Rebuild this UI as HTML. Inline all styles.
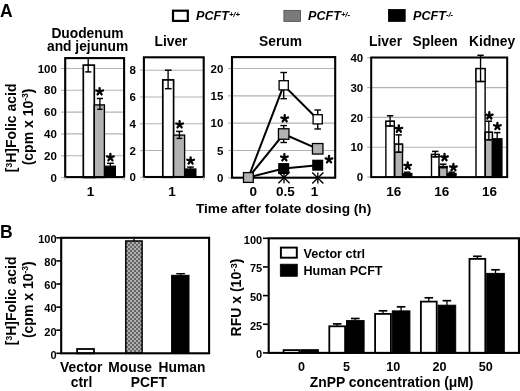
<!DOCTYPE html>
<html><head><meta charset="utf-8"><title>Figure</title>
<style>
html,body{margin:0;padding:0;background:#fff;width:520px;height:391px;overflow:hidden}
svg{display:block;filter:grayscale(1) blur(0.3px)}
text{font-family:"Liberation Sans", sans-serif;font-weight:bold;fill:#000}
</style></head><body>
<svg width="520" height="391" viewBox="0 0 520 391">
<rect width="520" height="391" fill="#fff"/>
<text x="0.00" y="17.00" font-size="17.5" text-anchor="start" >A</text>
<text x="0.00" y="237.90" font-size="17.5" text-anchor="start" >B</text>
<rect x="173.00" y="10.70" width="14.80" height="10.20" fill="#fff" stroke="#000" stroke-width="2.2"/>
<rect x="283.90" y="10.40" width="16.60" height="11.00" fill="#7a7a7a" stroke="#555" stroke-width="0.9"/>
<rect x="388.40" y="9.40" width="16.80" height="12.00" fill="#000" stroke="#000" stroke-width="0.8"/>
<text x="196" y="20.4" font-size="12.6" font-style="italic">PCFT<tspan font-size="7.6" dy="-3.6">+/+</tspan></text>
<text x="308" y="20.4" font-size="12.6" font-style="italic">PCFT<tspan font-size="7.6" dy="-3.6">+/-</tspan></text>
<text x="413" y="20.4" font-size="12.6" font-style="italic">PCFT<tspan font-size="7.6" dy="-3.6">-/-</tspan></text>
<line x1="61.00" y1="177.50" x2="65.00" y2="177.50" stroke="#b3b3b3" stroke-width="1.1"/>
<text x="56.90" y="181.60" font-size="11.5" text-anchor="end" >0</text>
<line x1="61.00" y1="155.70" x2="65.00" y2="155.70" stroke="#b3b3b3" stroke-width="1.1"/>
<line x1="65.00" y1="155.70" x2="124.00" y2="155.70" stroke="#b3b3b3" stroke-width="1.1"/>
<text x="56.90" y="159.80" font-size="11.5" text-anchor="end" >20</text>
<line x1="61.00" y1="133.90" x2="65.00" y2="133.90" stroke="#b3b3b3" stroke-width="1.1"/>
<line x1="65.00" y1="133.90" x2="124.00" y2="133.90" stroke="#b3b3b3" stroke-width="1.1"/>
<text x="56.90" y="138.00" font-size="11.5" text-anchor="end" >40</text>
<line x1="61.00" y1="112.10" x2="65.00" y2="112.10" stroke="#b3b3b3" stroke-width="1.1"/>
<line x1="65.00" y1="112.10" x2="124.00" y2="112.10" stroke="#b3b3b3" stroke-width="1.1"/>
<text x="56.90" y="116.20" font-size="11.5" text-anchor="end" >60</text>
<line x1="61.00" y1="90.30" x2="65.00" y2="90.30" stroke="#b3b3b3" stroke-width="1.1"/>
<line x1="65.00" y1="90.30" x2="124.00" y2="90.30" stroke="#b3b3b3" stroke-width="1.1"/>
<text x="56.90" y="94.40" font-size="11.5" text-anchor="end" >80</text>
<line x1="61.00" y1="68.50" x2="65.00" y2="68.50" stroke="#b3b3b3" stroke-width="1.1"/>
<line x1="65.00" y1="68.50" x2="124.00" y2="68.50" stroke="#b3b3b3" stroke-width="1.1"/>
<text x="56.90" y="72.60" font-size="11.5" text-anchor="end" >100</text>
<rect x="83.30" y="65.10" width="11.00" height="112.40" fill="#fff" stroke="#000" stroke-width="1.7"/>
<rect x="94.30" y="104.90" width="10.10" height="72.60" fill="#b2b2b2" stroke="#000" stroke-width="1.35"/>
<rect x="104.90" y="166.10" width="10.60" height="11.40" fill="#000" stroke="#000" stroke-width="1.0"/>
<line x1="88.20" y1="58.00" x2="88.20" y2="71.90" stroke="#000" stroke-width="1.35"/>
<line x1="85.20" y1="71.90" x2="91.40" y2="71.90" stroke="#000" stroke-width="1.5"/>
<line x1="99.90" y1="98.50" x2="99.90" y2="109.30" stroke="#000" stroke-width="1.35"/>
<line x1="96.80" y1="98.50" x2="103.00" y2="98.50" stroke="#000" stroke-width="1.5"/>
<line x1="97.30" y1="109.30" x2="102.50" y2="109.30" stroke="#000" stroke-width="1.4"/>
<line x1="110.35" y1="163.30" x2="110.35" y2="166.00" stroke="#000" stroke-width="1.35"/>
<line x1="106.90" y1="163.30" x2="113.80" y2="163.30" stroke="#000" stroke-width="1.5"/>
<rect x="65.20" y="58.10" width="58.90" height="119.00" fill="none" stroke="#000" stroke-width="2.1"/>
<path d="M99.60,91.60L99.60,88.10M99.60,91.60L102.93,90.52M99.60,91.60L101.66,94.43M99.60,91.60L97.54,94.43M99.60,91.60L96.27,90.52" stroke="#000" stroke-width="2.3" stroke-linecap="round" fill="none"/>
<path d="M110.40,157.50L110.40,154.00M110.40,157.50L113.73,156.42M110.40,157.50L112.46,160.33M110.40,157.50L108.34,160.33M110.40,157.50L107.07,156.42" stroke="#000" stroke-width="2.3" stroke-linecap="round" fill="none"/>
<text x="90.40" y="195.50" font-size="13.5" text-anchor="middle" >1</text>
<line x1="65.20" y1="177.10" x2="65.20" y2="180.60" stroke="#bbb" stroke-width="1"/>
<line x1="124.10" y1="177.10" x2="124.10" y2="180.60" stroke="#bbb" stroke-width="1"/>
<text x="87.40" y="37.70" font-size="13.8" text-anchor="middle" >Duodenum</text>
<text x="87.60" y="50.80" font-size="13.8" text-anchor="middle" >and jejunum</text>
<line x1="140.00" y1="177.30" x2="143.60" y2="177.30" stroke="#b3b3b3" stroke-width="1.1"/>
<text x="135.80" y="181.40" font-size="11.5" text-anchor="end" >0</text>
<line x1="140.00" y1="150.52" x2="143.60" y2="150.52" stroke="#b3b3b3" stroke-width="1.1"/>
<line x1="143.60" y1="150.52" x2="204.00" y2="150.52" stroke="#b3b3b3" stroke-width="1.1"/>
<text x="135.80" y="154.62" font-size="11.5" text-anchor="end" >2</text>
<line x1="140.00" y1="123.74" x2="143.60" y2="123.74" stroke="#b3b3b3" stroke-width="1.1"/>
<line x1="143.60" y1="123.74" x2="204.00" y2="123.74" stroke="#b3b3b3" stroke-width="1.1"/>
<text x="135.80" y="127.84" font-size="11.5" text-anchor="end" >4</text>
<line x1="140.00" y1="96.96" x2="143.60" y2="96.96" stroke="#b3b3b3" stroke-width="1.1"/>
<line x1="143.60" y1="96.96" x2="204.00" y2="96.96" stroke="#b3b3b3" stroke-width="1.1"/>
<text x="135.80" y="101.06" font-size="11.5" text-anchor="end" >6</text>
<line x1="140.00" y1="70.18" x2="143.60" y2="70.18" stroke="#b3b3b3" stroke-width="1.1"/>
<line x1="143.60" y1="70.18" x2="204.00" y2="70.18" stroke="#b3b3b3" stroke-width="1.1"/>
<text x="135.80" y="74.28" font-size="11.5" text-anchor="end" >8</text>
<rect x="162.80" y="79.90" width="10.80" height="97.40" fill="#fff" stroke="#000" stroke-width="1.7"/>
<rect x="173.60" y="135.10" width="11.00" height="42.20" fill="#b2b2b2" stroke="#000" stroke-width="1.35"/>
<rect x="184.90" y="168.90" width="11.10" height="8.40" fill="#000" stroke="#000" stroke-width="1.0"/>
<line x1="168.10" y1="70.20" x2="168.10" y2="88.70" stroke="#000" stroke-width="1.35"/>
<line x1="164.90" y1="70.20" x2="171.60" y2="70.20" stroke="#000" stroke-width="1.5"/>
<line x1="164.90" y1="88.70" x2="171.60" y2="88.70" stroke="#000" stroke-width="1.5"/>
<line x1="179.40" y1="131.40" x2="179.40" y2="138.40" stroke="#000" stroke-width="1.35"/>
<line x1="176.10" y1="131.40" x2="182.70" y2="131.40" stroke="#000" stroke-width="1.5"/>
<line x1="176.60" y1="138.40" x2="182.20" y2="138.40" stroke="#000" stroke-width="1.4"/>
<line x1="190.50" y1="167.10" x2="190.50" y2="168.90" stroke="#000" stroke-width="1.35"/>
<line x1="187.20" y1="167.10" x2="193.80" y2="167.10" stroke="#000" stroke-width="1.5"/>
<rect x="143.90" y="57.30" width="59.80" height="119.70" fill="none" stroke="#000" stroke-width="2.1"/>
<path d="M179.60,124.60L179.60,121.10M179.60,124.60L182.93,123.52M179.60,124.60L181.66,127.43M179.60,124.60L177.54,127.43M179.60,124.60L176.27,123.52" stroke="#000" stroke-width="2.3" stroke-linecap="round" fill="none"/>
<path d="M190.60,160.80L190.60,157.30M190.60,160.80L193.93,159.72M190.60,160.80L192.66,163.63M190.60,160.80L188.54,163.63M190.60,160.80L187.27,159.72" stroke="#000" stroke-width="2.3" stroke-linecap="round" fill="none"/>
<text x="172.10" y="195.60" font-size="13.5" text-anchor="middle" >1</text>
<line x1="143.90" y1="177.00" x2="143.90" y2="180.50" stroke="#bbb" stroke-width="1"/>
<line x1="203.70" y1="177.00" x2="203.70" y2="180.50" stroke="#bbb" stroke-width="1"/>
<text x="171.00" y="45.60" font-size="13.8" text-anchor="middle" >Liver</text>
<line x1="228.00" y1="177.80" x2="232.00" y2="177.80" stroke="#b3b3b3" stroke-width="1.1"/>
<text x="223.30" y="181.90" font-size="11.5" text-anchor="end" >0</text>
<line x1="228.00" y1="150.48" x2="232.00" y2="150.48" stroke="#b3b3b3" stroke-width="1.1"/>
<line x1="232.00" y1="150.48" x2="335.20" y2="150.48" stroke="#b3b3b3" stroke-width="1.1"/>
<text x="223.30" y="154.58" font-size="11.5" text-anchor="end" >5</text>
<line x1="228.00" y1="123.15" x2="232.00" y2="123.15" stroke="#b3b3b3" stroke-width="1.1"/>
<line x1="232.00" y1="123.15" x2="335.20" y2="123.15" stroke="#b3b3b3" stroke-width="1.1"/>
<text x="223.30" y="127.25" font-size="11.5" text-anchor="end" >10</text>
<line x1="228.00" y1="95.83" x2="232.00" y2="95.83" stroke="#b3b3b3" stroke-width="1.1"/>
<line x1="232.00" y1="95.83" x2="335.20" y2="95.83" stroke="#b3b3b3" stroke-width="1.1"/>
<text x="223.30" y="99.93" font-size="11.5" text-anchor="end" >15</text>
<line x1="228.00" y1="68.50" x2="232.00" y2="68.50" stroke="#b3b3b3" stroke-width="1.1"/>
<line x1="232.00" y1="68.50" x2="335.20" y2="68.50" stroke="#b3b3b3" stroke-width="1.1"/>
<text x="223.30" y="72.60" font-size="11.5" text-anchor="end" >20</text>
<line x1="284.00" y1="172.10" x2="284.00" y2="183.30" stroke="#000" stroke-width="1.35"/>
<line x1="278.40" y1="172.10" x2="289.60" y2="183.30" stroke="#000" stroke-width="1.35"/>
<line x1="278.40" y1="183.30" x2="289.60" y2="172.10" stroke="#000" stroke-width="1.35"/>
<line x1="317.80" y1="172.40" x2="317.80" y2="183.60" stroke="#000" stroke-width="1.35"/>
<line x1="312.20" y1="172.40" x2="323.40" y2="183.60" stroke="#000" stroke-width="1.35"/>
<line x1="312.20" y1="183.60" x2="323.40" y2="172.40" stroke="#000" stroke-width="1.35"/>
<polyline points="248.4,177.5 283.7,85.3 317.7,119.3" fill="none" stroke="#000" stroke-width="2"/>
<polyline points="248.4,177.5 283.7,134.0 317.7,148.8" fill="none" stroke="#000" stroke-width="2"/>
<polyline points="248.4,177.5 283.7,168.6 317.7,165.2" fill="none" stroke="#000" stroke-width="2"/>
<line x1="283.70" y1="72.50" x2="283.70" y2="98.70" stroke="#000" stroke-width="1.4"/>
<line x1="280.40" y1="72.50" x2="287.00" y2="72.50" stroke="#000" stroke-width="1.4"/>
<line x1="280.40" y1="98.70" x2="287.00" y2="98.70" stroke="#000" stroke-width="1.4"/>
<line x1="317.70" y1="110.00" x2="317.70" y2="129.00" stroke="#000" stroke-width="1.4"/>
<line x1="314.40" y1="110.00" x2="321.00" y2="110.00" stroke="#000" stroke-width="1.4"/>
<line x1="314.40" y1="129.00" x2="321.00" y2="129.00" stroke="#000" stroke-width="1.4"/>
<line x1="283.70" y1="125.60" x2="283.70" y2="142.50" stroke="#000" stroke-width="1.4"/>
<line x1="280.40" y1="125.60" x2="287.00" y2="125.60" stroke="#000" stroke-width="1.4"/>
<line x1="280.40" y1="142.50" x2="287.00" y2="142.50" stroke="#000" stroke-width="1.4"/>
<rect x="279.10" y="80.70" width="9.20" height="9.20" fill="#fff" stroke="#000" stroke-width="1.3"/>
<rect x="313.10" y="114.70" width="9.20" height="9.20" fill="#fff" stroke="#000" stroke-width="1.3"/>
<rect x="278.45" y="128.75" width="10.50" height="10.50" fill="#b2b2b2" stroke="#000" stroke-width="1.3"/>
<rect x="312.45" y="143.55" width="10.50" height="10.50" fill="#b2b2b2" stroke="#000" stroke-width="1.3"/>
<rect x="278.85" y="163.75" width="9.70" height="9.70" fill="#000" stroke="#000" stroke-width="1.3"/>
<rect x="312.85" y="160.35" width="9.70" height="9.70" fill="#000" stroke="#000" stroke-width="1.3"/>
<rect x="232.00" y="57.10" width="103.20" height="120.60" fill="none" stroke="#000" stroke-width="2.1"/>
<rect x="243.50" y="172.60" width="9.80" height="9.80" fill="#b2b2b2" stroke="#000" stroke-width="1.3"/>
<path d="M284.70,118.60L284.70,115.10M284.70,118.60L288.03,117.52M284.70,118.60L286.76,121.43M284.70,118.60L282.64,121.43M284.70,118.60L281.37,117.52" stroke="#000" stroke-width="2.3" stroke-linecap="round" fill="none"/>
<path d="M284.40,157.60L284.40,154.10M284.40,157.60L287.73,156.52M284.40,157.60L286.46,160.43M284.40,157.60L282.34,160.43M284.40,157.60L281.07,156.52" stroke="#000" stroke-width="2.3" stroke-linecap="round" fill="none"/>
<path d="M329.00,159.50L329.00,156.00M329.00,159.50L332.33,158.42M329.00,159.50L331.06,162.33M329.00,159.50L326.94,162.33M329.00,159.50L325.67,158.42" stroke="#000" stroke-width="2.3" stroke-linecap="round" fill="none"/>
<text x="253.20" y="195.50" font-size="13.5" text-anchor="middle" >0</text>
<text x="285.30" y="195.50" font-size="13.5" text-anchor="middle" >0.5</text>
<text x="314.60" y="195.50" font-size="13.5" text-anchor="middle" >1</text>
<text x="280.50" y="46.00" font-size="13.8" text-anchor="middle" >Serum</text>
<line x1="367.20" y1="177.00" x2="371.20" y2="177.00" stroke="#b3b3b3" stroke-width="1.1"/>
<text x="363.20" y="181.10" font-size="11.5" text-anchor="end" >0</text>
<line x1="367.20" y1="147.20" x2="371.20" y2="147.20" stroke="#b3b3b3" stroke-width="1.1"/>
<line x1="371.20" y1="147.20" x2="507.20" y2="147.20" stroke="#b3b3b3" stroke-width="1.1"/>
<text x="363.20" y="151.30" font-size="11.5" text-anchor="end" >10</text>
<line x1="367.20" y1="117.40" x2="371.20" y2="117.40" stroke="#b3b3b3" stroke-width="1.1"/>
<line x1="371.20" y1="117.40" x2="507.20" y2="117.40" stroke="#b3b3b3" stroke-width="1.1"/>
<text x="363.20" y="121.50" font-size="11.5" text-anchor="end" >20</text>
<line x1="367.20" y1="87.60" x2="371.20" y2="87.60" stroke="#b3b3b3" stroke-width="1.1"/>
<line x1="371.20" y1="87.60" x2="507.20" y2="87.60" stroke="#b3b3b3" stroke-width="1.1"/>
<text x="363.20" y="91.70" font-size="11.5" text-anchor="end" >30</text>
<line x1="367.20" y1="57.80" x2="371.20" y2="57.80" stroke="#b3b3b3" stroke-width="1.1"/>
<line x1="371.20" y1="57.80" x2="507.20" y2="57.80" stroke="#b3b3b3" stroke-width="1.1"/>
<text x="363.20" y="61.90" font-size="11.5" text-anchor="end" >40</text>
<rect x="385.90" y="121.30" width="8.40" height="55.70" fill="#fff" stroke="#000" stroke-width="1.4"/>
<rect x="385.90" y="121.30" width="8.40" height="4.70" fill="#fff" stroke="#000" stroke-width="1.4"/>
<line x1="387.40" y1="126.00" x2="392.80" y2="126.00" stroke="#000" stroke-width="1.35"/>
<line x1="390.10" y1="115.75" x2="390.10" y2="126.00" stroke="#000" stroke-width="1.35"/>
<line x1="386.90" y1="115.75" x2="393.30" y2="115.75" stroke="#000" stroke-width="1.5"/>
<rect x="394.80" y="144.20" width="7.70" height="32.80" fill="#b2b2b2" stroke="#000" stroke-width="1.4"/>
<rect x="394.80" y="144.20" width="7.70" height="8.00" fill="#e6e6e6" stroke="#000" stroke-width="1.4"/>
<line x1="396.30" y1="152.20" x2="401.00" y2="152.20" stroke="#000" stroke-width="1.35"/>
<line x1="398.65" y1="134.90" x2="398.65" y2="152.20" stroke="#000" stroke-width="1.35"/>
<line x1="395.45" y1="134.90" x2="401.85" y2="134.90" stroke="#000" stroke-width="1.5"/>
<rect x="402.60" y="173.60" width="9.20" height="3.40" fill="#000" stroke="#000" stroke-width="1.4"/>
<line x1="407.20" y1="172.20" x2="407.20" y2="173.60" stroke="#000" stroke-width="1.35"/>
<line x1="404.00" y1="172.20" x2="410.40" y2="172.20" stroke="#000" stroke-width="1.5"/>
<rect x="431.50" y="154.50" width="7.50" height="22.50" fill="#fff" stroke="#000" stroke-width="1.4"/>
<rect x="431.50" y="154.50" width="7.50" height="2.30" fill="#fff" stroke="#000" stroke-width="1.4"/>
<line x1="433.00" y1="156.80" x2="437.50" y2="156.80" stroke="#000" stroke-width="1.35"/>
<line x1="435.25" y1="151.40" x2="435.25" y2="156.80" stroke="#000" stroke-width="1.35"/>
<line x1="432.05" y1="151.40" x2="438.45" y2="151.40" stroke="#000" stroke-width="1.5"/>
<rect x="439.40" y="166.60" width="7.60" height="10.40" fill="#b2b2b2" stroke="#000" stroke-width="1.4"/>
<rect x="439.40" y="166.60" width="7.60" height="1.00" fill="#e6e6e6" stroke="#000" stroke-width="1.4"/>
<line x1="440.90" y1="167.60" x2="445.50" y2="167.60" stroke="#000" stroke-width="1.35"/>
<line x1="443.20" y1="164.20" x2="443.20" y2="167.60" stroke="#000" stroke-width="1.35"/>
<line x1="440.00" y1="164.20" x2="446.40" y2="164.20" stroke="#000" stroke-width="1.5"/>
<rect x="447.50" y="173.60" width="8.50" height="3.40" fill="#000" stroke="#000" stroke-width="1.4"/>
<line x1="451.75" y1="172.20" x2="451.75" y2="173.60" stroke="#000" stroke-width="1.35"/>
<line x1="448.55" y1="172.20" x2="454.95" y2="172.20" stroke="#000" stroke-width="1.5"/>
<rect x="476.00" y="68.60" width="9.10" height="108.40" fill="#fff" stroke="#000" stroke-width="1.4"/>
<rect x="476.00" y="68.60" width="9.10" height="12.90" fill="#fff" stroke="#000" stroke-width="1.4"/>
<line x1="477.50" y1="81.50" x2="483.60" y2="81.50" stroke="#000" stroke-width="1.35"/>
<line x1="480.55" y1="55.30" x2="480.55" y2="81.50" stroke="#000" stroke-width="1.35"/>
<line x1="477.35" y1="55.30" x2="483.75" y2="55.30" stroke="#000" stroke-width="1.5"/>
<rect x="485.30" y="132.30" width="7.10" height="44.70" fill="#b2b2b2" stroke="#000" stroke-width="1.4"/>
<rect x="485.30" y="132.30" width="7.10" height="7.50" fill="#e6e6e6" stroke="#000" stroke-width="1.4"/>
<line x1="486.80" y1="139.80" x2="490.90" y2="139.80" stroke="#000" stroke-width="1.35"/>
<line x1="488.85" y1="121.20" x2="488.85" y2="139.80" stroke="#000" stroke-width="1.35"/>
<line x1="485.65" y1="121.20" x2="492.05" y2="121.20" stroke="#000" stroke-width="1.5"/>
<rect x="492.50" y="138.80" width="9.40" height="38.20" fill="#000" stroke="#000" stroke-width="1.4"/>
<line x1="497.20" y1="132.60" x2="497.20" y2="138.80" stroke="#000" stroke-width="1.35"/>
<line x1="494.00" y1="132.60" x2="500.40" y2="132.60" stroke="#000" stroke-width="1.5"/>
<rect x="371.20" y="57.50" width="136.00" height="119.60" fill="none" stroke="#000" stroke-width="2"/>
<path d="M398.80,128.90L398.80,125.40M398.80,128.90L402.13,127.82M398.80,128.90L400.86,131.73M398.80,128.90L396.74,131.73M398.80,128.90L395.47,127.82" stroke="#000" stroke-width="2.3" stroke-linecap="round" fill="none"/>
<path d="M407.70,165.90L407.70,162.40M407.70,165.90L411.03,164.82M407.70,165.90L409.76,168.73M407.70,165.90L405.64,168.73M407.70,165.90L404.37,164.82" stroke="#000" stroke-width="2.3" stroke-linecap="round" fill="none"/>
<path d="M444.50,157.40L444.50,153.90M444.50,157.40L447.83,156.32M444.50,157.40L446.56,160.23M444.50,157.40L442.44,160.23M444.50,157.40L441.17,156.32" stroke="#000" stroke-width="2.3" stroke-linecap="round" fill="none"/>
<path d="M453.40,167.40L453.40,163.90M453.40,167.40L456.73,166.32M453.40,167.40L455.46,170.23M453.40,167.40L451.34,170.23M453.40,167.40L450.07,166.32" stroke="#000" stroke-width="2.3" stroke-linecap="round" fill="none"/>
<path d="M489.30,115.70L489.30,112.20M489.30,115.70L492.63,114.62M489.30,115.70L491.36,118.53M489.30,115.70L487.24,118.53M489.30,115.70L485.97,114.62" stroke="#000" stroke-width="2.3" stroke-linecap="round" fill="none"/>
<path d="M497.40,126.30L497.40,122.80M497.40,126.30L500.73,125.22M497.40,126.30L499.46,129.13M497.40,126.30L495.34,129.13M497.40,126.30L494.07,125.22" stroke="#000" stroke-width="2.3" stroke-linecap="round" fill="none"/>
<text x="393.70" y="195.60" font-size="13.5" text-anchor="middle" >16</text>
<text x="441.70" y="195.60" font-size="13.5" text-anchor="middle" >16</text>
<text x="489.50" y="195.60" font-size="13.5" text-anchor="middle" >16</text>
<text x="385.60" y="45.80" font-size="13.8" text-anchor="middle" >Liver</text>
<text x="435.20" y="45.80" font-size="13.8" text-anchor="middle" >Spleen</text>
<text x="492.10" y="45.80" font-size="13.8" text-anchor="middle" >Kidney</text>
<text x="283.60" y="212.70" font-size="13.7" text-anchor="middle" >Time after folate dosing (h)</text>
<text transform="translate(16.4,127.85) rotate(-90)" font-size="14" text-anchor="middle">[<tspan font-size="8.5" dy="-4.5">3</tspan><tspan dy="4.5">H]Folic acid</tspan></text>
<text transform="translate(32.9,126.95) rotate(-90)" font-size="14" text-anchor="middle">(cpm x 10<tspan font-size="8.5" dy="-4.5">-3</tspan><tspan dy="4.5">)</tspan></text>
<line x1="56.30" y1="353.30" x2="61.20" y2="353.30" stroke="#000" stroke-width="1.6"/>
<text x="56.60" y="358.60" font-size="11" text-anchor="end" >0</text>
<line x1="56.30" y1="330.20" x2="61.20" y2="330.20" stroke="#000" stroke-width="1.6"/>
<text x="56.60" y="335.50" font-size="11" text-anchor="end" >20</text>
<line x1="56.30" y1="307.10" x2="61.20" y2="307.10" stroke="#000" stroke-width="1.6"/>
<text x="56.60" y="312.40" font-size="11" text-anchor="end" >40</text>
<line x1="56.30" y1="284.00" x2="61.20" y2="284.00" stroke="#000" stroke-width="1.6"/>
<text x="56.60" y="289.30" font-size="11" text-anchor="end" >60</text>
<line x1="56.30" y1="260.90" x2="61.20" y2="260.90" stroke="#000" stroke-width="1.6"/>
<text x="56.60" y="266.20" font-size="11" text-anchor="end" >80</text>
<line x1="56.30" y1="237.80" x2="61.20" y2="237.80" stroke="#000" stroke-width="1.6"/>
<text x="56.60" y="243.10" font-size="11" text-anchor="end" >100</text>
<rect x="77.10" y="349.00" width="16.90" height="4.30" fill="#fff" stroke="#000" stroke-width="1.8"/>
<defs><pattern id="chk" width="4" height="4" patternUnits="userSpaceOnUse"><rect width="4" height="4" fill="#b0b0b0"/><rect width="2" height="2" fill="#666"/><rect x="2" y="2" width="2" height="2" fill="#666"/></pattern></defs>
<rect x="125.80" y="241.00" width="16.30" height="112.30" fill="url(#chk)" stroke="#000" stroke-width="1.5"/>
<rect x="171.60" y="275.30" width="17.40" height="78.00" fill="#000" stroke="#000" stroke-width="1"/>
<line x1="180.60" y1="273.70" x2="180.60" y2="275.30" stroke="#000" stroke-width="1.35"/>
<line x1="176.30" y1="273.70" x2="184.90" y2="273.70" stroke="#000" stroke-width="1.4"/>
<line x1="133.90" y1="239.00" x2="133.90" y2="241.00" stroke="#000" stroke-width="1.35"/>
<rect x="61.20" y="237.80" width="147.90" height="115.50" fill="none" stroke="#000" stroke-width="2.1"/>
<text x="81.20" y="371.90" font-size="13.8" text-anchor="middle" >Vector</text>
<text x="81.50" y="387.20" font-size="13.8" text-anchor="middle" >ctrl</text>
<text x="130.10" y="371.90" font-size="13.8" text-anchor="middle" >Mouse</text>
<text x="148.80" y="387.20" font-size="13.8" text-anchor="middle" >PCFT</text>
<text x="182.00" y="371.90" font-size="13.8" text-anchor="middle" >Human</text>
<text transform="translate(16.4,300.85) rotate(-90)" font-size="14" text-anchor="middle">[<tspan font-size="8.5" dy="-4.5">3</tspan><tspan dy="4.5">H]Folic acid</tspan></text>
<text transform="translate(32.9,299.7) rotate(-90)" font-size="14" text-anchor="middle">(cpm x 10<tspan font-size="8.5" dy="-4.5">-3</tspan><tspan dy="4.5">)</tspan></text>
<line x1="263.00" y1="352.90" x2="268.50" y2="352.90" stroke="#000" stroke-width="1.6"/>
<text x="262.20" y="358.20" font-size="11" text-anchor="end" >0</text>
<line x1="263.00" y1="324.25" x2="268.50" y2="324.25" stroke="#000" stroke-width="1.6"/>
<text x="262.20" y="329.55" font-size="11" text-anchor="end" >25</text>
<line x1="263.00" y1="295.60" x2="268.50" y2="295.60" stroke="#000" stroke-width="1.6"/>
<text x="262.20" y="300.90" font-size="11" text-anchor="end" >50</text>
<line x1="263.00" y1="266.95" x2="268.50" y2="266.95" stroke="#000" stroke-width="1.6"/>
<text x="262.20" y="272.25" font-size="11" text-anchor="end" >75</text>
<line x1="263.00" y1="238.30" x2="268.50" y2="238.30" stroke="#000" stroke-width="1.6"/>
<text x="262.20" y="243.60" font-size="11" text-anchor="end" >100</text>
<rect x="283.60" y="350.10" width="15.80" height="2.80" fill="#fff" stroke="#000" stroke-width="1.8"/>
<rect x="300.80" y="349.70" width="17.60" height="3.20" fill="#000" stroke="#000" stroke-width="1"/>
<line x1="337.20" y1="323.90" x2="337.20" y2="326.30" stroke="#000" stroke-width="1.3"/>
<line x1="332.90" y1="323.90" x2="341.50" y2="323.90" stroke="#000" stroke-width="1.7"/>
<line x1="355.30" y1="318.50" x2="355.30" y2="320.60" stroke="#000" stroke-width="1.3"/>
<line x1="351.00" y1="318.50" x2="359.60" y2="318.50" stroke="#000" stroke-width="1.7"/>
<rect x="329.30" y="326.30" width="15.80" height="26.60" fill="#fff" stroke="#000" stroke-width="1.8"/>
<rect x="346.50" y="320.60" width="17.60" height="32.30" fill="#000" stroke="#000" stroke-width="1"/>
<line x1="383.00" y1="310.80" x2="383.00" y2="313.90" stroke="#000" stroke-width="1.3"/>
<line x1="378.70" y1="310.80" x2="387.30" y2="310.80" stroke="#000" stroke-width="1.7"/>
<line x1="401.10" y1="306.80" x2="401.10" y2="310.90" stroke="#000" stroke-width="1.3"/>
<line x1="396.80" y1="306.80" x2="405.40" y2="306.80" stroke="#000" stroke-width="1.7"/>
<rect x="375.10" y="313.90" width="15.80" height="39.00" fill="#fff" stroke="#000" stroke-width="1.8"/>
<rect x="392.30" y="310.90" width="17.60" height="42.00" fill="#000" stroke="#000" stroke-width="1"/>
<line x1="428.80" y1="297.80" x2="428.80" y2="301.60" stroke="#000" stroke-width="1.3"/>
<line x1="424.50" y1="297.80" x2="433.10" y2="297.80" stroke="#000" stroke-width="1.7"/>
<line x1="446.90" y1="300.70" x2="446.90" y2="305.20" stroke="#000" stroke-width="1.3"/>
<line x1="442.60" y1="300.70" x2="451.20" y2="300.70" stroke="#000" stroke-width="1.7"/>
<rect x="420.90" y="301.60" width="15.80" height="51.30" fill="#fff" stroke="#000" stroke-width="1.8"/>
<rect x="438.10" y="305.20" width="17.60" height="47.70" fill="#000" stroke="#000" stroke-width="1"/>
<line x1="477.40" y1="256.30" x2="477.40" y2="258.90" stroke="#000" stroke-width="1.3"/>
<line x1="473.10" y1="256.30" x2="481.70" y2="256.30" stroke="#000" stroke-width="1.7"/>
<line x1="495.50" y1="269.80" x2="495.50" y2="273.40" stroke="#000" stroke-width="1.3"/>
<line x1="491.20" y1="269.80" x2="499.80" y2="269.80" stroke="#000" stroke-width="1.7"/>
<rect x="469.50" y="258.90" width="15.80" height="94.00" fill="#fff" stroke="#000" stroke-width="1.8"/>
<rect x="486.70" y="273.40" width="17.60" height="79.50" fill="#000" stroke="#000" stroke-width="1"/>
<rect x="268.70" y="238.30" width="250.30" height="114.60" fill="none" stroke="#000" stroke-width="2.1"/>
<rect x="280.90" y="247.60" width="15.90" height="10.10" fill="#fff" stroke="#000" stroke-width="1.95"/>
<rect x="280.30" y="264.20" width="17.00" height="12.10" fill="#000" stroke="#000" stroke-width="0.8"/>
<text x="303.50" y="257.80" font-size="12.6" text-anchor="start" >Vector ctrl</text>
<text x="303.50" y="274.80" font-size="12.6" text-anchor="start" >Human PCFT</text>
<text x="301.60" y="370.90" font-size="12.6" text-anchor="middle" >0</text>
<text x="346.50" y="370.90" font-size="12.6" text-anchor="middle" >5</text>
<text x="393.20" y="370.90" font-size="12.6" text-anchor="middle" >10</text>
<text x="439.40" y="370.90" font-size="12.6" text-anchor="middle" >20</text>
<text x="485.70" y="370.90" font-size="12.6" text-anchor="middle" >50</text>
<text x="391.65" y="387.30" font-size="13.85" text-anchor="middle" >ZnPP concentration (&#956;M)</text>
<text transform="translate(241.3,297.5) rotate(-90)" font-size="14" text-anchor="middle">RFU x (10<tspan font-size="9.6" dy="-4.6">-3</tspan><tspan dy="4.6">)</tspan></text>
</svg>
</body></html>
